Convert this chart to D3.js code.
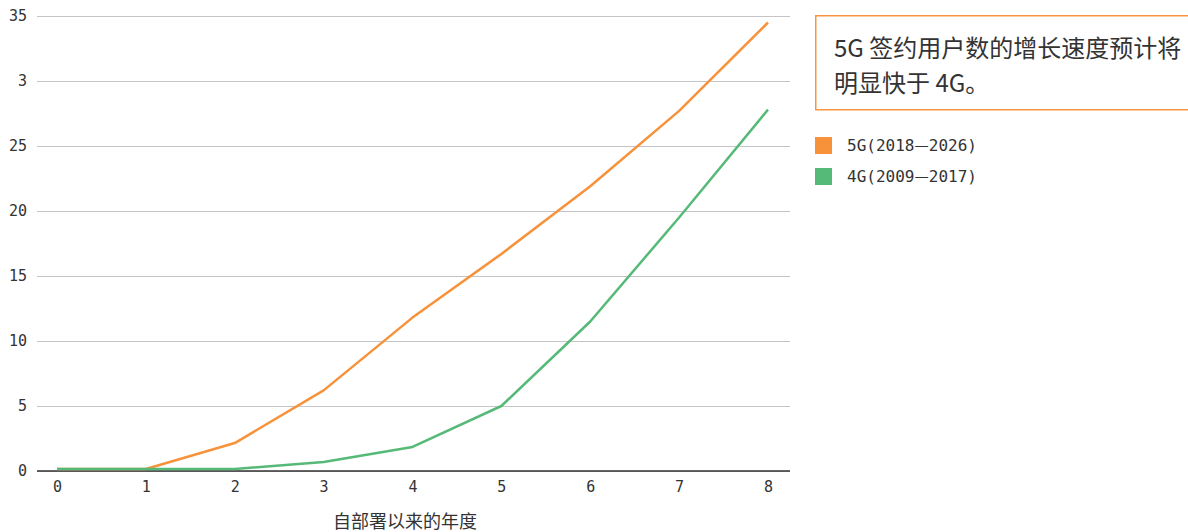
<!DOCTYPE html>
<html>
<head>
<meta charset="utf-8">
<script src="https://cdn.jsdelivr.net/npm/d3@7/dist/d3.min.js"></script>
<style>
  html, body { margin: 0; padding: 0; background: #fff; }
  svg { display: block; }
</style>
</head>
<body>
<svg id="chart" width="1188" height="532"></svg>
<script>
// Years since deployment
const years = [0, 1, 2, 3, 4, 5, 6, 7, 8];
// Subscriptions per series
const values5G = [0.15, 0.15, 2.15, 6.2, 11.8, 16.7, 21.9, 27.7, 34.5];
const values4G = [0.15, 0.15, 0.15, 0.7, 1.85, 5.0, 11.5, 19.5, 27.8];
// Legend labels, split around the dash so it can use a wider glyph
const seriesNames = [["5G(2018", "\u2014", "2026)"], ["4G(2009", "\u2014", "2017)"]];
const seriesColors = ["#f7923a", "#55b977"];
// Y tick values and their labels
const yTicks = [0, 5, 10, 15, 20, 25, 30, 35];
const yTickLabels = ["0", "5", "10", "15", "20", "25", "3", "35"];
const xTitle = "自部署以来的年度";
const noteLines = ["5G 签约用户数的增长速度预计将", "明显快于 4G。"];

const svg = d3.select("#chart");
const plot = { left: 37, right: 790, top: 16, bottom: 471 };

const x = d3.scaleLinear().domain([0, 8]).range([57, 768]);
const y = d3.scaleLinear().domain([0, 35]).range([plot.bottom, plot.top]);

const mono = "'DejaVu Sans Mono', monospace";
const cjk = "'Noto Sans CJK SC', sans-serif";

// Horizontal gridlines with tick labels
const yAxis = d3.axisLeft(y)
  .tickValues(yTicks)
  .tickSize(-(plot.right - plot.left))
  .tickPadding(10)
  .tickFormat((d, i) => yTickLabels[i]);

const gy = svg.append("g")
  .attr("transform", `translate(${plot.left},0)`)
  .call(yAxis);
gy.select(".domain").remove();
gy.selectAll(".tick line").attr("stroke", "#c4c4c8").attr("stroke-width", 1.2);
gy.selectAll(".tick text")
  .attr("fill", "#333")
  .style("font-family", mono)
  .style("font-size", "15px");

// X axis
const xAxis = d3.axisBottom(x)
  .tickValues(years)
  .tickSize(0)
  .tickPadding(10)
  .tickFormat(d3.format("d"));
const gx = svg.append("g")
  .attr("transform", `translate(0,${plot.bottom})`)
  .call(xAxis);
gx.select(".domain").remove();
gx.selectAll(".tick text")
  .attr("fill", "#333")
  .style("font-family", mono)
  .style("font-size", "15px");

svg.append("line")
  .attr("x1", plot.left).attr("x2", plot.right)
  .attr("y1", plot.bottom).attr("y2", plot.bottom)
  .attr("stroke", "#333").attr("stroke-width", 1.3);

svg.append("text")
  .attr("x", 405).attr("y", 528)
  .attr("text-anchor", "middle")
  .attr("fill", "#333")
  .style("font-family", cjk)
  .style("font-size", "18px")
  .text(xTitle);

// Series lines
const line = d3.line()
  .x((d, i) => x(years[i]))
  .y(d => y(d));

[values5G, values4G].forEach((vals, i) => {
  svg.append("path")
    .datum(vals)
    .attr("d", line)
    .attr("fill", "none")
    .attr("stroke", seriesColors[i])
    .attr("stroke-width", 2.5)
    .attr("stroke-linejoin", "round");
});

// Note box
svg.append("rect")
  .attr("x", 815.75).attr("y", 15.75)
  .attr("width", 390).attr("height", 94)
  .attr("fill", "#fff")
  .attr("stroke", "#f7963f")
  .attr("stroke-width", 1.5);

svg.selectAll(".note")
  .data(noteLines)
  .enter().append("text")
  .attr("class", "note")
  .attr("x", 834)
  .attr("y", (d, i) => 57 + i * 35)
  .attr("fill", "#333")
  .style("font-family", cjk)
  .style("font-size", "24px")
  .text(d => d);

// Legend
const legend = svg.selectAll(".legend")
  .data(seriesNames)
  .enter().append("g")
  .attr("class", "legend")
  .attr("transform", (d, i) => `translate(815,${137 + i * 31})`);
legend.append("rect")
  .attr("width", 17).attr("height", 17)
  .attr("fill", (d, i) => seriesColors[i]);
const lt = legend.append("text")
  .attr("x", 32).attr("y", 14)
  .attr("fill", "#333")
  .style("font-family", mono)
  .style("font-size", "16px");
lt.append("tspan").text(d => d[0]);
lt.append("tspan").style("font-family", cjk).text(d => d[1]);
lt.append("tspan").text(d => d[2]);
</script>
</body>
</html>
